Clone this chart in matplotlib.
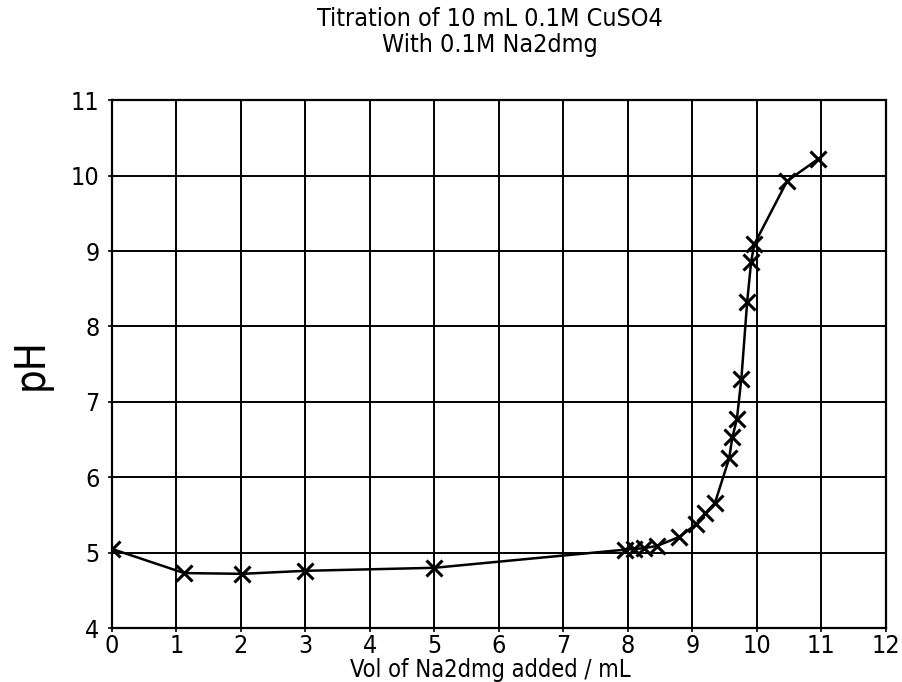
import numpy as np
import matplotlib.pyplot as plt

# volume of Na2dmg added (mL) and measured pH
vol = [0.0, 1.12, 2.02, 3.0, 5.0, 7.95, 8.1, 8.25, 8.45, 8.8, 9.06, 9.2, 9.35,
       9.57, 9.62, 9.69, 9.76, 9.85, 9.91, 9.96, 10.47, 10.95]
ph = [5.05, 4.73, 4.72, 4.76, 4.80, 5.04, 5.05, 5.06, 5.09, 5.21, 5.38, 5.52, 5.66,
      6.25, 6.53, 6.77, 7.31, 8.33, 8.85, 9.09, 9.93, 10.22]

xticks = list(range(0, 13))
yticks = list(range(4, 12))

plt.rcParams['font.family'] = ['DejaVu Sans']
plt.rcParams['font.stretch'] = 'condensed'

fig = plt.figure(figsize=(9.03, 6.82), dpi=100)
ax = fig.add_axes([0.124, 0.079, 0.857, 0.774])

ax.plot(vol, ph, color='black', linewidth=1.8, marker='x', markersize=11,
        markeredgewidth=2.2, zorder=3)

ax.set_xlim(0, 12)
ax.set_ylim(4, 11)
ax.set_xticks(xticks)
ax.set_yticks(yticks)
ax.grid(True, color='black', linewidth=1.4)
for s in ax.spines.values():
    s.set_linewidth(1.6)
    s.set_color('black')
ax.tick_params(axis='both', direction='out', length=3, width=1.2,
               labelsize=18, colors='black')
ax.tick_params(axis='x', pad=1)
ax.tick_params(axis='y', pad=6)

ax.set_ylabel('pH', fontsize=30, labelpad=14)
fig.text(0.543, 0.0, 'Vol of Na2dmg added / mL', fontsize=17,
         ha='center', va='bottom')
fig.text(0.543, 0.972, 'Titration of 10 mL 0.1M CuSO4', fontsize=18,
         ha='center', va='center')
fig.text(0.543, 0.934, 'With 0.1M Na2dmg', fontsize=18,
         ha='center', va='center')

fig.savefig('out.png', dpi=100)
